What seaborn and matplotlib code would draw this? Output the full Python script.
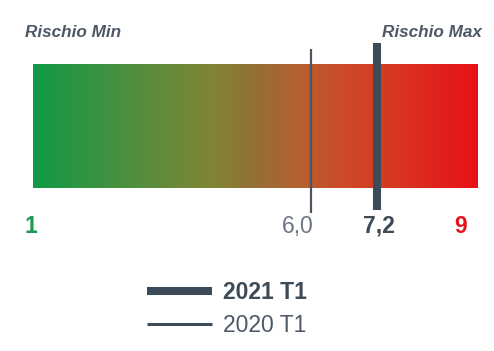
import numpy as np
import matplotlib
matplotlib.use("Agg")
import matplotlib.pyplot as plt
from matplotlib.colors import LinearSegmentedColormap
from matplotlib.lines import Line2D
import seaborn as sns

# Data
scale_min = 1
scale_max = 9
series_labels = ["2021 T1", "2020 T1"]
series_values = [7.2, 6.0]
value_labels = ["7,2", "6,0"]
title_min = "Rischio Min"
title_max = "Rischio Max"

sns.set_style("white")
plt.rcParams['font.family'] = ['Liberation Sans', 'DejaVu Sans']

W, H = 494, 351
fig = plt.figure(figsize=(W / 100, H / 100), dpi=100)
# axis: x in data units (1..9), y in pixel rows
ax = fig.add_axes([33 / W, 0, 444 / W, 1])
ax.set_xlim(scale_min, scale_max)
ax.set_ylim(H, 0)
ax.axis("off")

cmap = LinearSegmentedColormap.from_list("risk", [
    (0.0, "#109a45"), (0.2, "#4a9040"), (0.4, "#808535"), (0.5, "#956f35"),
    (0.6, "#b5602f"), (0.7, "#cc4a28"), (0.85, "#dc3020"), (1.0, "#e81018")])
grad = np.linspace(0, 1, 512).reshape(1, -1)
ax.imshow(grad, cmap=cmap, aspect="auto", extent=[scale_min, scale_max, 188, 64],
          interpolation="bilinear", zorder=1)

# markers
ax.vlines(series_values[1], 49, 213, color="#4a5562", lw=1.6, zorder=3)
ax.vlines(series_values[0], 43, 210, color="#3d4b59", lw=5.8, zorder=3)

# labels
fig.text(25 / W, 1 - 37 / H, title_min, fontsize=12.3, fontweight="bold", fontstyle="italic",
         color="#4e5866", ha="left", va="baseline")
fig.text(482 / W, 1 - 37 / H, title_max, fontsize=12.3, fontweight="bold", fontstyle="italic",
         color="#4e5866", ha="right", va="baseline")

fs = 16.5
ax.text(scale_min - 0.04, 233, str(scale_min), fontsize=fs, fontweight="bold", color="#1a9a4c",
        ha="center", va="baseline")
ax.text(scale_max - 0.29, 233, str(scale_max), fontsize=fs, fontweight="bold", color="#e3141c",
        ha="center", va="baseline")
ax.text(series_values[1] + 0.05, 233, value_labels[1], fontsize=fs, color="#6b7581",
        ha="right", va="baseline")
ax.text(series_values[0] + 0.04, 233, value_labels[0], fontsize=fs, fontweight="bold",
        color="#3d4a57", ha="center", va="baseline")

handles = [Line2D([0], [0], color="#3d4b59", lw=5.8, solid_capstyle="butt"),
           Line2D([0], [0], color="#3d4b59", lw=2.2, solid_capstyle="butt")]
leg = ax.legend(handles, series_labels, loc="upper left",
                bbox_to_anchor=(147 / W, 1 - 281 / H), bbox_transform=fig.transFigure,
                frameon=False, fontsize=fs, handlelength=2.84, handletextpad=0.48,
                labelspacing=0.45, borderpad=0, borderaxespad=0)
for t in leg.get_texts():
    t.set_color("#3d4a57")
leg.get_texts()[0].set_fontweight("bold")
leg.get_texts()[1].set_color("#4e5866")

fig.savefig("out.png", dpi=100)
